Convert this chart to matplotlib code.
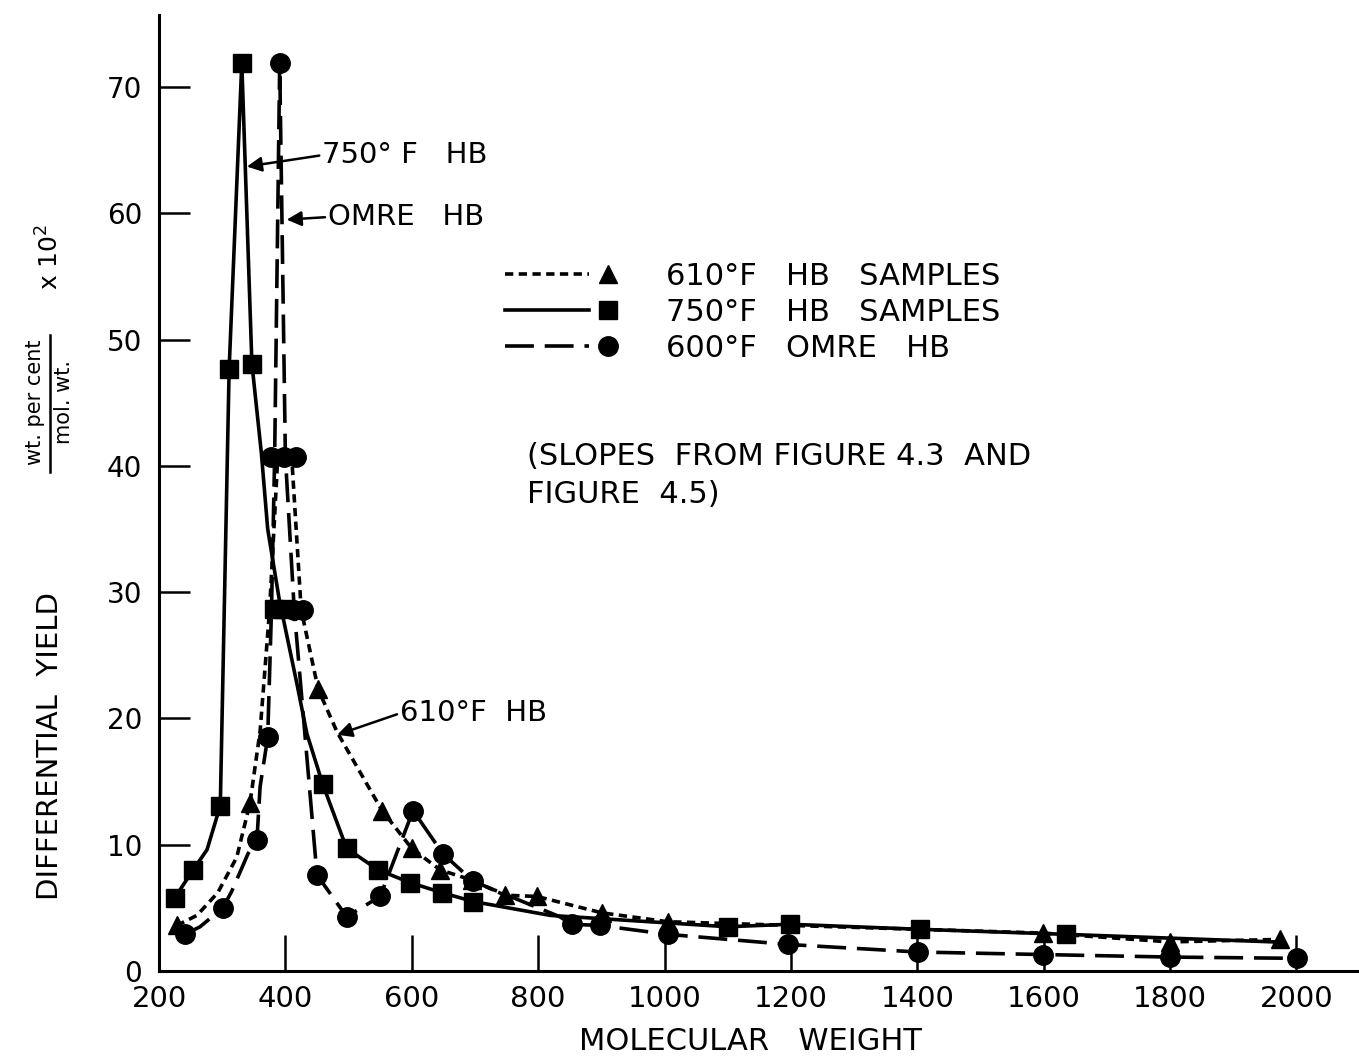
"""
Differential yield vs molecular weight for three hydrogenated samples.
Re-drawn from a scanned figure: markers and hand-drawn curves.
"""

import matplotlib

matplotlib.use("Agg")

import matplotlib.pyplot as plt
from matplotlib.legend_handler import HandlerLine2D
from matplotlib.lines import Line2D


plt.rcParams["font.family"] = ["DejaVu Sans"]

# 610 F HB samples (triangles, short dashes)
hb610_mw = [228, 344, 452, 553, 600, 645, 695, 747, 798, 901, 1005, 1599, 1800, 1974]
hb610_yield = [3.6, 13.3, 22.3, 12.7, 9.7, 8.0, 7.2, 6.0, 5.9, 4.6, 3.9, 3.0, 2.3, 2.5]
hb610_curve_mw = [228, 260, 293, 323, 344, 360, 375, 388, 400, 410, 425, 452, 482,
                  553, 600, 645, 695, 747, 798, 901, 1005, 1599, 1800, 1974]
hb610_curve_yield = [3.6, 4.4, 6.2, 9.0, 13.3, 19.0, 28.6, 40.7, 40.9, 40.7, 28.6, 22.3, 18.9,
                     12.7, 9.7, 8.0, 7.2, 6.0, 5.9, 4.6, 3.9, 3.0, 2.3, 2.5]

# 750 F HB samples (squares, solid)
hb750_mw = [225, 254, 297, 311, 331, 347, 382, 398, 459, 497, 547, 597, 648, 697,
            1100, 1198, 1404, 1635]
hb750_yield = [5.8, 8.0, 13.1, 47.7, 71.9, 48.1, 28.7, 28.7, 14.8, 9.7, 8.0, 7.0, 6.2, 5.5,
               3.5, 3.7, 3.3, 2.9]
hb750_curve_mw = [225, 254, 276, 297, 311, 331, 347, 362, 372, 390, 418, 434, 459, 497,
                  547, 597, 648, 697, 819, 1100, 1198, 1404, 1635, 1965]
hb750_curve_yield = [5.8, 8.0, 9.6, 13.1, 47.7, 71.9, 48.1, 41.0, 35.0, 29.5, 22.8, 18.8, 14.8, 9.7,
                     8.0, 7.0, 6.2, 5.5, 4.4, 3.5, 3.7, 3.3, 2.9, 2.3]

# 600 F OMRE HB (circles, long dashes)
omre_mw = [241, 301, 355, 372, 378, 391, 398, 417, 413, 428, 450, 497, 550, 602, 649, 697,
           853, 898, 1005, 1195, 1401, 1599, 1800, 2001]
omre_yield = [2.9, 5.0, 10.4, 18.5, 40.7, 71.9, 40.7, 40.7, 28.6, 28.6, 7.6, 4.3, 5.9, 12.7, 9.3, 7.1,
              3.7, 3.6, 2.9, 2.1, 1.5, 1.3, 1.1, 1.0]
omre_curve_mw = [241, 265, 301, 315, 341, 355, 360, 372, 378, 383, 391, 400, 414, 450, 497,
                 550, 602, 649, 697, 834, 853, 898, 1005, 1195, 1401, 1599, 1800, 2001]
omre_curve_yield = [2.9, 3.5, 5.0, 6.3, 9.3, 10.4, 14.6, 18.5, 28.6, 40.7, 71.9, 40.7, 28.6, 7.6, 4.3,
                    5.9, 12.7, 9.3, 7.1, 4.3, 3.7, 3.6, 2.9, 2.1, 1.5, 1.3, 1.1, 1.0]

x_ticks = [200, 400, 600, 800, 1000, 1200, 1400, 1600, 1800, 2000]
y_ticks = [0, 10, 20, 30, 40, 50, 60, 70]

legend_labels = ["610°F   HB   SAMPLES", "750°F   HB   SAMPLES", "600°F   OMRE   HB"]

LW = 2.6
SHORT_DASH = (0, (2.3, 1.5))
LONG_DASH = (0, (8, 3))
TEXT_SIZE = 21


class EndMarkerHandler(HandlerLine2D):
    """Legend sample: line on the left, marker at its right end."""

    def create_artists(self, legend, orig_handle, xdescent, ydescent,
                       width, height, fontsize, trans):
        y = (height - ydescent) / 2
        line = Line2D([-xdescent, -xdescent + width * 0.82], [y, y])
        self.update_prop(line, orig_handle, legend)
        line.set_marker("None")
        mark = Line2D([-xdescent + width], [y])
        self.update_prop(mark, orig_handle, legend)
        mark.set_linestyle("None")
        line.set_transform(trans)
        mark.set_transform(trans)
        return [line, mark]


fig = plt.figure(figsize=(13.59, 10.57), dpi=100)
ax = fig.add_axes((0.117, 0.0814, 0.883, 0.9044))

ax.plot(hb610_curve_mw, hb610_curve_yield, color="black", lw=LW, linestyle=SHORT_DASH, zorder=2)
ax.plot(hb750_curve_mw, hb750_curve_yield, color="black", lw=LW, linestyle="-", zorder=2)
ax.plot(omre_curve_mw, omre_curve_yield, color="black", lw=LW, linestyle=LONG_DASH, zorder=2)

ax.plot(hb610_mw, hb610_yield, linestyle="none", marker="^", ms=13, color="black", zorder=3)
ax.plot(hb750_mw, hb750_yield, linestyle="none", marker="s", ms=13, color="black", zorder=4)
ax.plot(omre_mw, omre_yield, linestyle="none", marker="o", ms=14, color="black", zorder=5)

ax.set_xlim(200, 2099)
ax.set_ylim(0, 75.7)
ax.set_xticks(x_ticks)
ax.set_xticklabels([str(v) for v in x_ticks])
ax.set_yticks(y_ticks)
ax.set_yticklabels([str(v) for v in y_ticks])

for side in ("top", "right"):
    ax.spines[side].set_visible(False)
for side in ("left", "bottom"):
    ax.spines[side].set_linewidth(2.2)

ax.tick_params(axis="x", direction="in", length=26, width=1.8, labelsize=21, pad=10)
ax.tick_params(axis="y", direction="in", length=22, width=1.8, labelsize=20, pad=12)

# curve annotations
arrow = dict(arrowstyle="-|>", lw=1.8, color="black", mutation_scale=22,
             shrinkA=0, shrinkB=0, relpos=(0, 0.5))
ax.annotate("750° F   HB", xy=(339, 63.7), xytext=(458, 64.6), fontsize=TEXT_SIZE,
            ha="left", va="center", arrowprops=arrow)
ax.annotate("OMRE   HB", xy=(402, 59.5), xytext=(467, 59.7), fontsize=TEXT_SIZE,
            ha="left", va="center", arrowprops=arrow)
ax.annotate("610°F  HB", xy=(482, 18.7), xytext=(581, 20.4), fontsize=TEXT_SIZE,
            ha="left", va="center", arrowprops=arrow)

ax.text(782, 39.2, "(SLOPES  FROM FIGURE 4.3  AND\nFIGURE  4.5)", fontsize=22,
        ha="left", va="center", linespacing=1.39)

handles = [
    Line2D([], [], color="black", lw=LW, linestyle=SHORT_DASH, marker="^", ms=13),
    Line2D([], [], color="black", lw=LW, linestyle="-", marker="s", ms=13),
    Line2D([], [], color="black", lw=LW, linestyle=LONG_DASH, marker="o", ms=14),
]
ax.legend(handles, legend_labels, handler_map={Line2D: EndMarkerHandler()},
          loc="upper left", bbox_to_anchor=(505 / 1359, 1 - 262 / 1057),
          bbox_transform=fig.transFigure, frameon=False, fontsize=22,
          handlelength=3.37, handletextpad=1.9, labelspacing=0.225,
          borderpad=0, borderaxespad=0)

fig.text(750 / 1359, 1 - 1042 / 1057, "MOLECULAR   WEIGHT", fontsize=22,
         ha="center", va="center")

# y label: DIFFERENTIAL YIELD (wt. per cent / mol. wt.) x 10^2
fig.text(50 / 1359, 1 - 746 / 1057, "DIFFERENTIAL  YIELD", fontsize=21,
         rotation=90, ha="center", va="center")
fig.text(35 / 1359, 1 - 402 / 1057, "wt. per cent", fontsize=15,
         rotation=90, ha="center", va="center")
fig.text(64 / 1359, 1 - 402 / 1057, "mol. wt.", fontsize=15,
         rotation=90, ha="center", va="center")
fig.add_artist(Line2D([50 / 1359, 50 / 1359], [1 - 472 / 1057, 1 - 335 / 1057],
                      transform=fig.transFigure, color="black", lw=1.8))
fig.text(50 / 1359, 1 - 257 / 1057, r"x 10$^2$", fontsize=18,
         rotation=90, ha="center", va="center")

fig.savefig("out.png", dpi=100)
